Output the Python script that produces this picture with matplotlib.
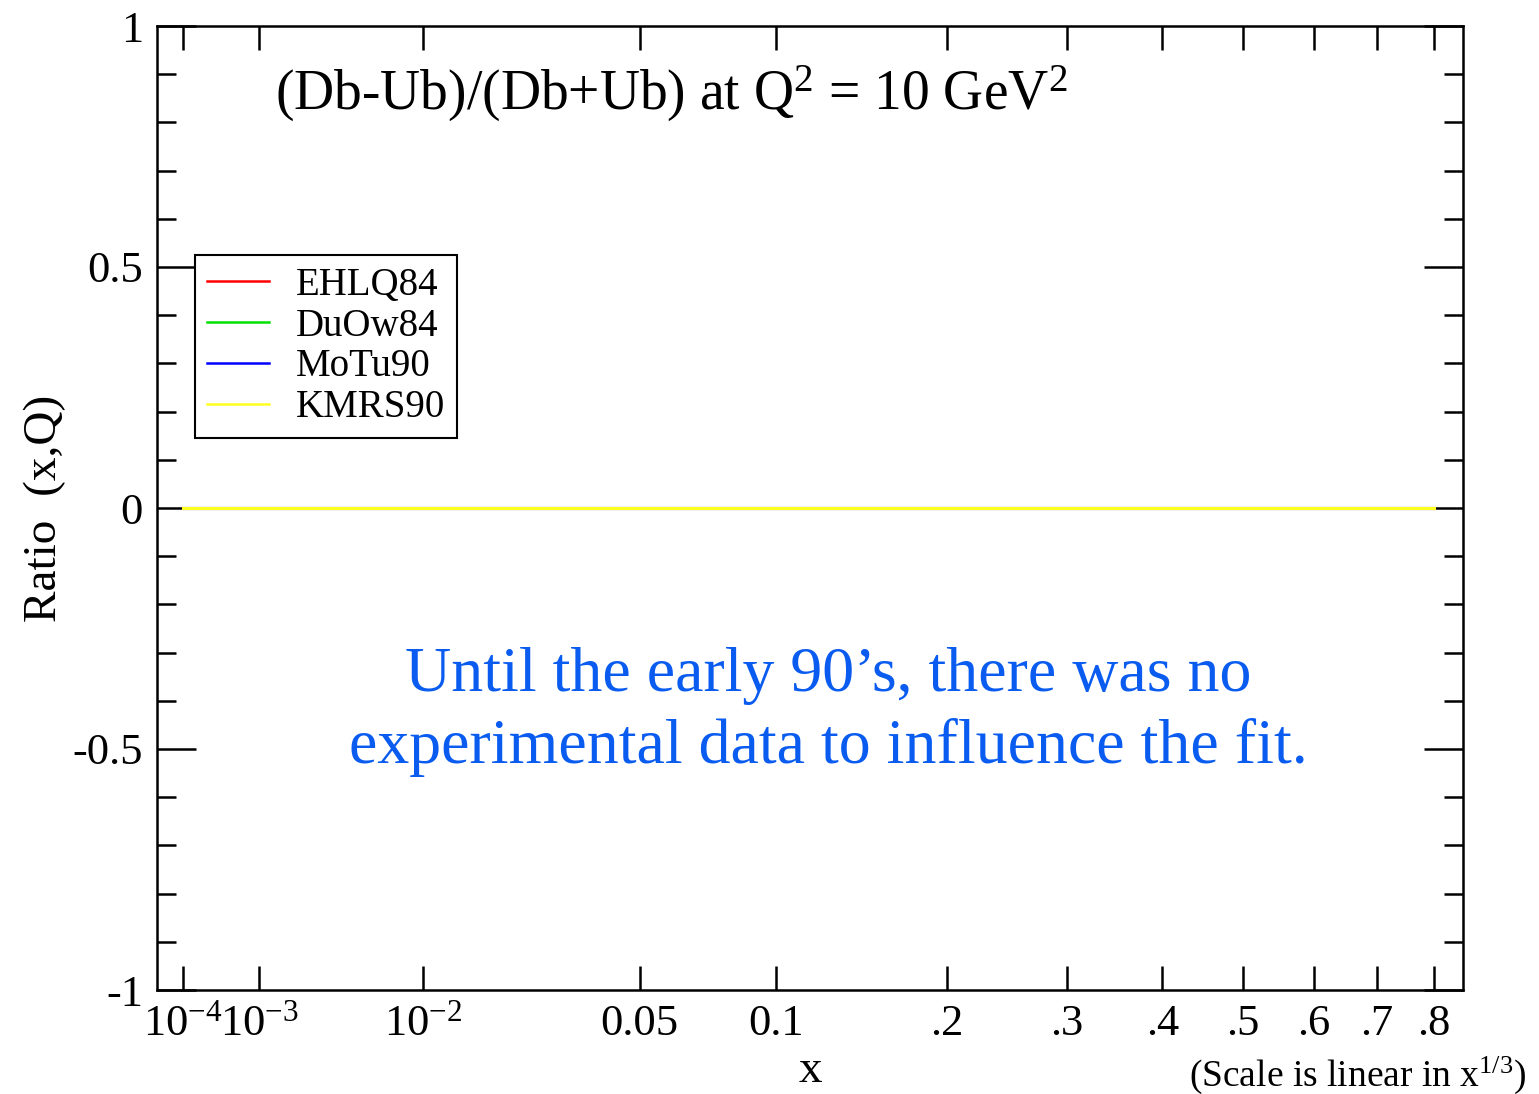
import matplotlib
matplotlib.use('Agg')
import matplotlib.pyplot as plt
import numpy as np

plt.rcParams['font.family'] = ['Liberation Serif', 'DejaVu Serif']
plt.rcParams['mathtext.fontset'] = 'custom'
plt.rcParams['mathtext.rm'] = 'Liberation Serif'
plt.rcParams['mathtext.it'] = 'Liberation Serif:italic'

# x grid of the curves and the four model ratios (all flat at zero)
x_vals = [1e-4, 1e-3, 1e-2, 0.05, 0.1, 0.2, 0.3, 0.4, 0.5, 0.6, 0.7, 0.8]
ehlq84 = [0.0, 0.0, 0.0, 0.0, 0.0, 0.0, 0.0, 0.0, 0.0, 0.0, 0.0, 0.0]
duow84 = [0.0, 0.0, 0.0, 0.0, 0.0, 0.0, 0.0, 0.0, 0.0, 0.0, 0.0, 0.0]
motu90 = [0.0, 0.0, 0.0, 0.0, 0.0, 0.0, 0.0, 0.0, 0.0, 0.0, 0.0, 0.0]
kmrs90 = [0.0, 0.0, 0.0, 0.0, 0.0, 0.0, 0.0, 0.0, 0.0, 0.0, 0.0, 0.0]

series_names = ['EHLQ84', 'DuOw84', 'MoTu90', 'KMRS90']
series_colors = ['#ff0000', '#00e000', '#0000ff', '#ffff20']

xtick_vals = [1e-4, 1e-3, 1e-2, 0.05, 0.1, 0.2, 0.3, 0.4, 0.5, 0.6, 0.7, 0.8]
xtick_labels = [r'$\mathregular{10^{-4}}$', r'$\mathregular{10^{-3}}$', r'$\mathregular{10^{-2}}$',
                '0.05', '0.1', '.2', '.3', '.4', '.5', '.6', '.7', '.8']

W, H = 1539, 1094
fig = plt.figure(figsize=(W / 100, H / 100), dpi=100)
ax = fig.add_axes([157 / W, 1 - 990 / H, (1463 - 157) / W, (990 - 26) / H])

ax.set_xscale('function', functions=(lambda v: np.cbrt(v), lambda v: np.power(v, 3)))

for ys, name, col in zip([ehlq84, duow84, motu90, kmrs90], series_names, series_colors):
    ax.plot(x_vals, ys, color=col, lw=2.2, label=name)

ax.set_xlim(0.0281 ** 3, 0.9487 ** 3)
ax.set_ylim(-1, 1)

ax.set_xticks(xtick_vals)
ax.set_xticklabels(xtick_labels)
ax.xaxis.set_minor_locator(matplotlib.ticker.NullLocator())
ax.set_yticks([-1, -0.5, 0, 0.5, 1])
ax.set_yticklabels(['-1', '-0.5', '0', '0.5', '1'])
ax.set_yticks(np.arange(-1, 1.01, 0.1), minor=True)

ax.tick_params(axis='x', which='major', direction='in', top=True, length=17, width=1.8,
               labelsize=32, pad=10)
ax.tick_params(axis='y', which='major', direction='in', right=True, length=28, width=1.8,
               labelsize=32, pad=10)
ax.tick_params(axis='y', which='minor', direction='in', right=True, length=14, width=1.8)
for s in ax.spines.values():
    s.set_linewidth(1.8)

ax.set_ylabel('Ratio  (x,Q)', fontsize=34, labelpad=5)
ax.set_xlabel('x', fontsize=34, labelpad=4)

leg = ax.legend(loc='upper left', bbox_to_anchor=((195 - 157) / 1306, (990 - 255) / 964),
                borderaxespad=0, fontsize=28, fancybox=False, framealpha=1,
                edgecolor='black', handlelength=1.6, handletextpad=0.7,
                labelspacing=0.1, borderpad=0.3)
leg.get_frame().set_linewidth(1.5)
for h in leg.get_lines():
    h.set_linewidth(1.8)

fig.text(275 / W, 1 - 110 / H, r'(Db-Ub)/(Db+Ub) at Q$^{\mathregular{2}}$ = 10 GeV$^{\mathregular{2}}$',
         fontsize=40, ha='left', va='baseline')

fig.text(828 / W, 1 - 712 / H, 'Until the early 90\u2019s, there was no\nexperimental data to influence the fit.',
         fontsize=46, color='#0a5cf0', ha='center', va='center', linespacing=1.3)

fig.text(1526 / W, 1 - 1086 / H, r'(Scale is linear in x$^{\mathregular{1/3}}$)',
         fontsize=27, ha='right', va='baseline')

fig.savefig('out.png', dpi=100)
